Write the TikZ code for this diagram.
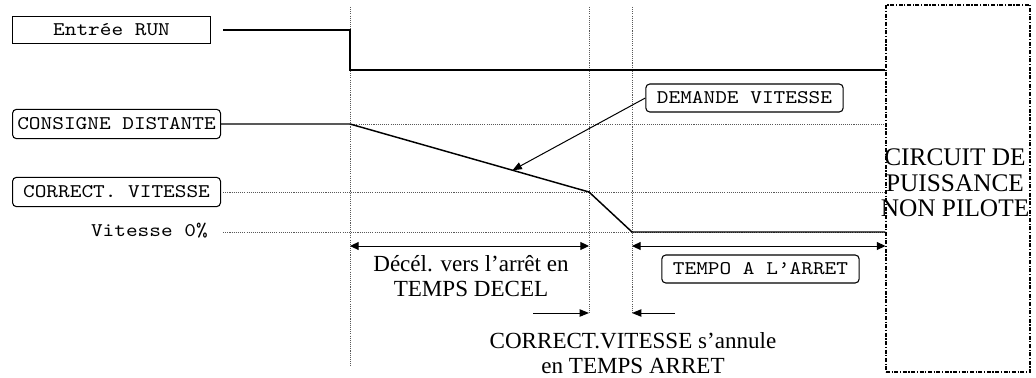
\documentclass[tikz,border=0pt]{standalone}
\usepackage{fontspec}
\setmainfont{Liberation Serif}
\newfontfamily\courier{lmmono10-regular}[Extension=.otf, FakeStretch=1.15]
\usepackage{tikz}
\usetikzlibrary{arrows.meta, positioning, calc}
\tikzset{
	signalbox/.style={rectangle, draw, line width=0.8pt, minimum width=148.5pt, minimum height=20.25pt, inner sep=1pt, align=center, font=\courier\fontsize{14.5}{17}\selectfont},
	roundbox/.style={signalbox, rounded corners=3pt, minimum width=156pt, minimum height=22pt},
	circuitbox/.style={rectangle, draw, line width=0.8pt, dash pattern=on 3pt off 1.2pt on 0.9pt off 1.2pt, minimum width=108pt, minimum height=275.25pt, inner sep=0pt},
	signal/.style={line width=1.1pt, line join=miter},
	repere/.style={line width=0.6pt, black!65, dash pattern=on 0.8pt off 0.8pt},
	arrow/.style={line width=0.75pt, -{Triangle[length=7pt, width=5.5pt]}},
	duree/.style={line width=0.75pt, {Triangle[length=6.5pt, width=6pt]}-{Triangle[length=6.5pt, width=6pt]}},
	legende/.style={align=center, inner sep=0pt, font=\fontsize{17.3}{19}\selectfont}
}

\begin{document}
\begin{tikzpicture}[x=0.75pt, y=-0.75pt]
	\useasboundingbox (0,0) rectangle (1036,378);
	% Instants de la sequence d'arret
	\coordinate (t0) at (350,7);
	\coordinate (t1) at (589,7);
	\coordinate (t2) at (632,7);
	\draw [repere] (t0) -- ++(0,360);
	\draw [repere] (t1) -- ++(0,306);
	\draw [repere] (t2) -- ++(0,306);

	% Boites des signaux
	\node (run) [signalbox, anchor=west] at (12,30) {Entrée RUN};
	\node (consigne) [roundbox, anchor=west] at (12,124) {CONSIGNE DISTANTE};
	\node (correct) [roundbox, anchor=west] at (12,192) {CORRECT. VITESSE};
	\node (zero) [anchor=east, inner sep=0pt, font=\courier\fontsize{14.5}{17}\selectfont] at (208,231) {Vitesse 0\%};
	\node (circuit) [circuitbox] at (958,188.5) {};
	\node (circuitlabel) [legende, font=\fontsize{19}{19}\selectfont] at (955,183) {CIRCUIT DE\\PUISSANCE\\NON PILOTE};

	% Points des chronogrammes
	\coordinate (runbas) at (350,70);
	\coordinate (ralenti) at (589,192);
	\coordinate (arret) at (632,232);
	\coordinate (pente) at ($(t0 |- consigne.east)!0.68!(ralenti)$);

	% Reperes horizontaux
	\draw [repere] (t0 |- consigne.east) -- (circuit.west |- consigne.east);
	\draw [repere] ([xshift=1.5pt]correct.east) -- (circuit.west |- correct.east);
	\draw [repere] ([xshift=1.5pt]correct.east |- arret) -- (circuit.west |- arret);

	% Signaux
	\draw [signal] ([xshift=9pt]run.east) -- (t0 |- run.east) -- (runbas) -- (circuit.west |- runbas);
	\draw [signal] (consigne.east) -- (t0 |- consigne.east) -- (ralenti) -- (arret) -- (circuit.west |- arret);

	% Demande vitesse
	\node (demande) [roundbox, minimum width=148pt, minimum height=21pt] at (744.5,98) {DEMANDE VITESSE};
	\draw [arrow] (demande.west) -- (pente);

	% Durees
	\coordinate (decel0) at (350,246);
	\coordinate (decel1) at (589,246);
	\coordinate (tempo0) at (632,246);
	\draw [duree] (decel0) -- (decel1);
	\draw [duree] (tempo0) -- (circuit.west |- tempo0);
	\node (decel) [legende] at (471,276) {Décél. vers l'arrêt en\\TEMPS DECEL};
	\node (tempo) [roundbox, minimum width=148pt, minimum height=21pt] at (760.5,269) {TEMPO A L’ARRET};

	% Annulation de la correction
	\coordinate (c1) at (533,313);
	\coordinate (c2) at (675,313);
	\draw [arrow] (c1) -- (t1 |- c1);
	\draw [arrow] (c2) -- (t2 |- c2);
	\node (annule) [legende] at (633,353) {CORRECT.VITESSE s'annule\\en TEMPS ARRET};
\end{tikzpicture}
\end{document}
